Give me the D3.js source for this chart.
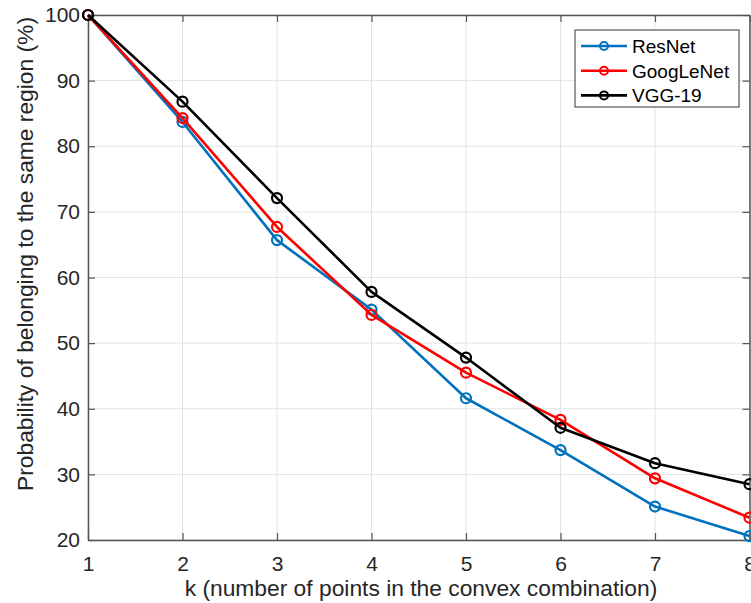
<!DOCTYPE html>
<html>
<head>
<meta charset="utf-8">
<script src="https://cdn.jsdelivr.net/npm/d3@7"></script>
<style>
  html, body { margin: 0; padding: 0; background: #fff; }
  svg { display: block; font-family: "Liberation Sans", Arial, Helvetica, sans-serif; }
</style>
</head>
<body>
<svg id="chart" width="751" height="603"></svg>
<script>
const kValues = [1, 2, 3, 4, 5, 6, 7, 8];
const resnet    = [100, 83.7, 65.7, 55.1, 41.6, 33.7, 25.1, 20.6];
const googlenet = [100, 84.3, 67.7, 54.3, 45.5, 38.3, 29.4, 23.4];
const vgg19     = [100, 86.8, 72.1, 57.8, 47.8, 37.1, 31.7, 28.5];
const seriesNames = ["ResNet", "GoogLeNet", "VGG-19"];
const seriesColors = ["#0072BD", "#FF0000", "#000000"];
const xTicks = [1, 2, 3, 4, 5, 6, 7, 8];
const yTicks = [20, 30, 40, 50, 60, 70, 80, 90, 100];
const xLabel = "k (number of points in the convex combination)";
const yLabel = "Probability of belonging to the same region (%)";

const series = [resnet, googlenet, vgg19].map((vals, i) => ({
  name: seriesNames[i], color: seriesColors[i],
  pts: vals.map((v, j) => ({ k: kValues[j], v }))
}));

const svg = d3.select("#chart");
const pL = 88, pR = 749.5, pT = 15, pB = 540;
const x = d3.scaleLinear().domain([1, 8]).range([pL, pR]);
const y = d3.scaleLinear().domain([20, 100]).range([pB, pT]);

const axisColor = "#262626";
const tickLen = 7;

// grid
const grid = svg.append("g");
grid.selectAll("line.gx").data(xTicks).join("line")
  .attr("x1", d => x(d)).attr("x2", d => x(d))
  .attr("y1", pT).attr("y2", pB)
  .attr("stroke", "#e3e3e3").attr("stroke-width", 1);
grid.selectAll("line.gy").data(yTicks).join("line")
  .attr("x1", pL).attr("x2", pR)
  .attr("y1", d => y(d)).attr("y2", d => y(d))
  .attr("stroke", "#e3e3e3").attr("stroke-width", 1);

const fs = 21;
const gx = svg.append("g").attr("transform", `translate(0,${pB})`)
  .call(d3.axisBottom(x).tickValues(xTicks).tickFormat(d3.format("d")).tickSizeInner(-tickLen).tickSizeOuter(0).tickPadding(16));
const gxTop = svg.append("g").attr("transform", `translate(0,${pT})`)
  .call(d3.axisTop(x).tickValues(xTicks).tickFormat("").tickSizeInner(-tickLen).tickSizeOuter(0));
const gy = svg.append("g").attr("transform", `translate(${pL},0)`)
  .call(d3.axisLeft(y).tickValues(yTicks).tickFormat(d3.format("d")).tickSizeInner(-tickLen).tickSizeOuter(0));
const gyR = svg.append("g").attr("transform", `translate(${pR},0)`)
  .call(d3.axisRight(y).tickValues(yTicks).tickFormat("").tickSizeInner(-tickLen).tickSizeOuter(0));

[gx, gxTop, gy, gyR].forEach(g => {
  g.select(".domain").attr("stroke", "#555").attr("stroke-width", 1.5);
  g.selectAll(".tick line").attr("stroke", "#555").attr("stroke-width", 1.2);
  g.selectAll(".tick text").attr("fill", axisColor).attr("font-size", fs)
    .attr("font-family", "Liberation Sans, Arial, sans-serif");
});
gy.selectAll(".tick text").attr("x", -8);

// lines
const line = d3.line().x(d => x(d.k)).y(d => y(d.v));
const plot = svg.append("g");
series.forEach(s => {
  plot.append("path").datum(s.pts)
    .attr("d", line).attr("fill", "none")
    .attr("stroke", s.color).attr("stroke-width", 2.6)
    .attr("stroke-linejoin", "round");
  plot.selectAll(null).data(s.pts).join("circle")
    .attr("cx", d => x(d.k)).attr("cy", d => y(d.v)).attr("r", 5)
    .attr("fill", "none").attr("stroke", s.color).attr("stroke-width", 2.2);
});

// axis labels
const lfs = 22.8;
svg.append("text").attr("x", 421).attr("y", 596)
  .attr("text-anchor", "middle").attr("font-size", lfs).attr("fill", axisColor)
  .text(xLabel);
svg.append("text")
  .attr("transform", `translate(33,254) rotate(-90)`)
  .attr("text-anchor", "middle").attr("font-size", lfs).attr("fill", axisColor)
  .text(yLabel);

// legend
const lg = svg.append("g");
lg.append("rect").attr("x", 575).attr("y", 30).attr("width", 164).attr("height", 77)
  .attr("fill", "#fff").attr("stroke", "#333").attr("stroke-width", 1);
series.forEach((s, i) => {
  const ly = 46 + i * 24.7;
  lg.append("line").attr("x1", 581).attr("x2", 627).attr("y1", ly).attr("y2", ly)
    .attr("stroke", s.color).attr("stroke-width", 2.6);
  lg.append("circle").attr("cx", 604).attr("cy", ly).attr("r", 4)
    .attr("fill", "none").attr("stroke", s.color).attr("stroke-width", 2);
  lg.append("text").attr("x", 632).attr("y", ly).attr("dy", "0.36em")
    .attr("font-size", 19).attr("fill", "#000").text(s.name);
});
</script>
</body>
</html>
